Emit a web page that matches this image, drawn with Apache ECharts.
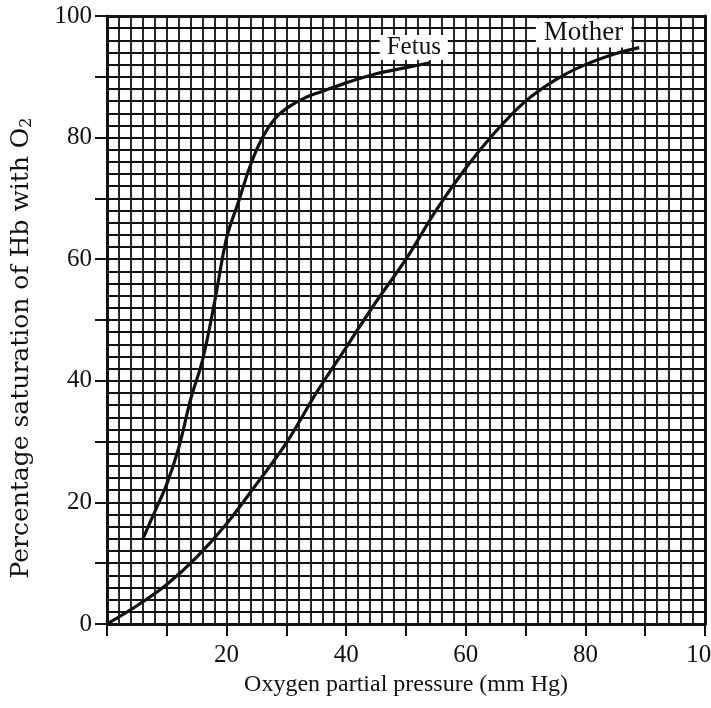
<!DOCTYPE html>
<html>
<head>
<meta charset="utf-8">
<script src="https://cdn.jsdelivr.net/npm/echarts@6/dist/echarts.min.js"></script>
<style>
  html, body { margin: 0; padding: 0; background: #fff; overflow: hidden; }
  #chart { width: 711px; height: 708px; }
</style>
</head>
<body>
<div id="chart"></div>
<script>
// Oxygen dissociation curves of haemoglobin: pO2 (mm Hg) vs % saturation
const fetusPressure   = [6, 8, 10, 12, 14, 16, 18, 20, 22, 24, 26, 28, 30, 33, 36, 40, 45, 50, 54];
const fetusSaturation = [14, 18.5, 23, 29, 37, 43.5, 53, 63.5, 69.5, 75.5, 80, 83, 84.8, 86.5, 87.6, 89, 90.5, 91.5, 92.3];

const motherPressure   = [0, 5, 10, 15, 20, 25, 30, 35, 40, 45, 50, 55, 60, 65, 70, 75, 80, 85, 89];
const motherSaturation = [0, 3, 6.5, 11, 16.5, 23, 29.8, 38, 45.5, 53, 60, 68, 75, 81, 86, 89.5, 92, 93.8, 94.8];

const xTickLabels = ['', '20', '40', '60', '80', '100'];
const yTickLabels = ['0', '20', '40', '60', '80', '100'];

const seriesNames = ['Fetus', 'Mother'];

const FONT = '"Liberation Serif", "Times New Roman", serif';
const WIDE_FONT = '"DejaVu Serif", serif';
const INK = '#111';

function pairs(xs, ys) {
  return xs.map((x, i) => [x, ys[i]]);
}

const chart = echarts.init(document.getElementById('chart'), null, { renderer: 'canvas' });

const option = {
  backgroundColor: '#fff',
  animation: false,
  grid: { left: 107, right: 6, top: 16, bottom: 84, containLabel: false, outerBoundsMode: 'none' },
  xAxis: [
    {
      type: 'value', min: 0, max: 100, interval: 20, position: 'bottom',
      axisLine: { show: true, onZero: false, lineStyle: { color: INK, width: 3 } },
      axisTick: { show: true, length: 12, lineStyle: { color: INK, width: 2 } },
      minorTick: { show: true, splitNumber: 2, length: 12, lineStyle: { color: INK, width: 2 } },
      axisLabel: {
        margin: 19, color: INK, fontFamily: FONT, fontSize: 25,
        formatter: (v) => xTickLabels[Math.round(v / 20)]
      },
      splitLine: { show: false },
      name: 'Oxygen partial pressure (mm Hg)',
      nameLocation: 'middle', nameGap: 49,
      nameTextStyle: { color: INK, fontFamily: FONT, fontSize: 24 }
    },
    {
      // fine graph-paper rulings every 2 mm Hg, plus the top frame
      type: 'value', min: 0, max: 100, interval: 2, position: 'top',
      axisLine: { show: true, onZero: false, lineStyle: { color: INK, width: 3 } },
      axisTick: { show: false }, axisLabel: { show: false },
      splitLine: { show: true, lineStyle: { color: INK, width: 1.8 } }
    }
  ],
  yAxis: [
    {
      type: 'value', min: 0, max: 100, interval: 20, position: 'left',
      axisLine: { show: true, onZero: false, lineStyle: { color: INK, width: 3 } },
      axisTick: { show: true, length: 12, lineStyle: { color: INK, width: 2 } },
      minorTick: { show: true, splitNumber: 2, length: 12, lineStyle: { color: INK, width: 2 } },
      axisLabel: {
        margin: 15, color: INK, fontFamily: FONT, fontSize: 25,
        formatter: (v) => yTickLabels[Math.round(v / 20)]
      },
      splitLine: { show: false },
      name: 'Percentage saturation of Hb with O{sub|2}',
      nameLocation: 'middle', nameGap: 72, nameRotate: 90,
      nameTextStyle: {
        color: INK, fontFamily: WIDE_FONT, fontSize: 25,
        padding: [0, 56, 0, 0],
        rich: { sub: { fontFamily: WIDE_FONT, fontSize: 16, color: INK, verticalAlign: 'bottom', padding: [12, 0, 0, 0] } }
      }
    },
    {
      // fine rulings every 2 %, plus the right-hand frame
      type: 'value', min: 0, max: 100, interval: 2, position: 'right',
      axisLine: { show: true, onZero: false, lineStyle: { color: INK, width: 3 } },
      axisTick: { show: false }, axisLabel: { show: false },
      splitLine: { show: true, lineStyle: { color: INK, width: 1.8 } }
    }
  ],
  series: [
    {
      name: seriesNames[0], type: 'line', xAxisIndex: 0, yAxisIndex: 0,
      data: pairs(fetusPressure, fetusSaturation),
      smooth: 0.35, showSymbol: false, z: 5,
      lineStyle: { color: INK, width: 3.2 },
      markPoint: {
        symbol: 'rect', symbolSize: 0, z: 6,
        label: {
          show: true, position: 'inside', formatter: '{b}',
          color: INK, fontFamily: FONT, fontSize: 25,
          backgroundColor: '#fff', padding: [0, 7, 0, 7]
        },
        data: [{ name: seriesNames[0], coord: [51.3, 94.8] }]
      }
    },
    {
      name: seriesNames[1], type: 'line', xAxisIndex: 0, yAxisIndex: 0,
      data: pairs(motherPressure, motherSaturation),
      smooth: 0.35, showSymbol: false, z: 5,
      lineStyle: { color: INK, width: 3.2 },
      markPoint: {
        symbol: 'rect', symbolSize: 0, z: 6,
        label: {
          show: true, position: 'inside', formatter: '{b}',
          color: INK, fontFamily: FONT, fontSize: 27,
          backgroundColor: '#fff', padding: [1, 8, 1, 8]
        },
        data: [{ name: seriesNames[1], coord: [79.7, 97.2] }]
      }
    }
  ]
};

chart.setOption(option);
</script>
</body>
</html>
